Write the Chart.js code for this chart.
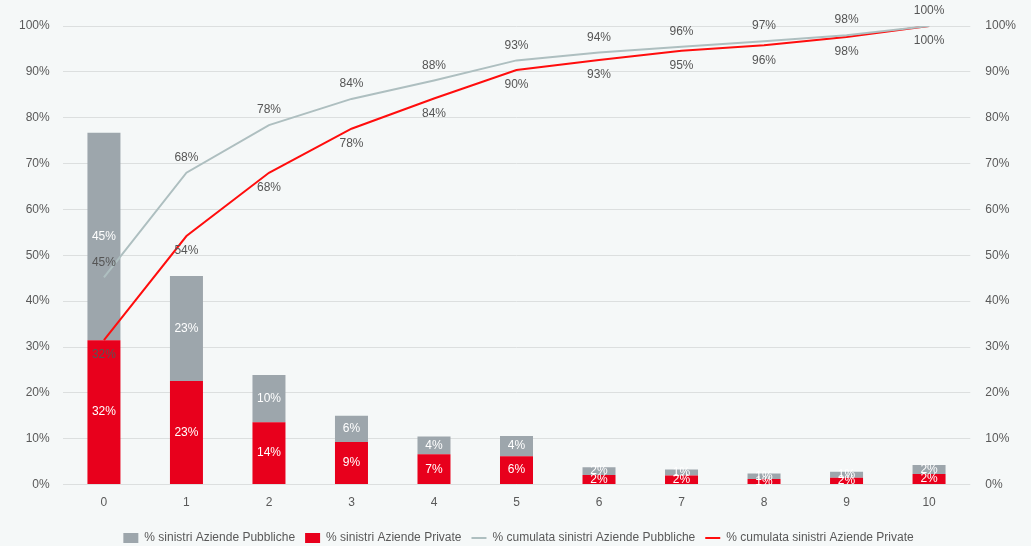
<!DOCTYPE html>
<html>
<head>
<meta charset="utf-8">
<script src="https://cdn.jsdelivr.net/npm/chart.js@4/dist/chart.umd.min.js"></script>
<style>
  html, body { margin: 0; padding: 0; background: #f5f8f8; }
  #wrap { width: 1031px; height: 546px; }
</style>
</head>
<body>
<div id="wrap"><canvas id="c" width="1031" height="546"></canvas></div>
<script>
const categories = ['0','1','2','3','4','5','6','7','8','9','10'];
const pctPrivate = [31.5, 22.6, 13.6, 9.3, 6.6, 6.2, 2.1, 2.0, 1.2, 1.5, 2.3];
const pctPublic  = [45.2, 22.9, 10.3, 5.7, 3.9, 4.4, 1.7, 1.3, 1.2, 1.3, 2.0];
const cumPublic  = [45.2, 68.0, 78.4, 84.1, 88.1, 92.5, 94.2, 95.5, 96.7, 98.0, 100];
const cumPrivate = [31.5, 54.2, 68.0, 77.6, 84.2, 90.4, 92.6, 94.6, 95.8, 97.6, 100];
const seriesNames = ['% sinistri Aziende Private', '% sinistri Aziende Pubbliche',
                     '% cumulata sinistri Aziende Pubbliche', '% cumulata sinistri Aziende Private'];

const FONT = '"Liberation Sans", Arial, sans-serif';
const fmt = v => Math.round(v) + '%';

const labelPlugin = {
  id: 'valueLabels',
  afterDatasetsDraw(chart) {
    const ctx = chart.ctx;
    ctx.save();
    ctx.font = '12px ' + FONT;
    ctx.textAlign = 'center';
    ctx.textBaseline = 'middle';
    chart.data.datasets.forEach((ds, di) => {
      const meta = chart.getDatasetMeta(di);
      meta.data.forEach((el, i) => {
        const v = ds.data[i];
        if (ds.type === 'bar') {
          ctx.fillStyle = '#ffffff';
          ctx.fillText(fmt(v), el.x, (el.y + el.base) / 2);
        } else {
          ctx.fillStyle = '#555555';
          const off = ds.labelPos === 'above' ? -15 : 15;
          ctx.fillText(fmt(v), el.x, el.y + off);
        }
      });
    });
    ctx.restore();
  }
};

const legendShift = {
  id: 'legendShift',
  afterLayout(chart) {
    if (chart.legend) { chart.legend.top += 9; chart.legend.bottom += 9; }
  }
};

const legendOrder = [1, 0, 2, 3];

new Chart(document.getElementById('c'), {
  data: {
    labels: categories,
    datasets: [
      { type: 'bar', label: seriesNames[0], data: pctPrivate, backgroundColor: '#e8001c',
        stack: 'bars', order: 1, barPercentage: 0.8, categoryPercentage: 0.5, pointStyle: 'rect' },
      { type: 'bar', label: seriesNames[1], data: pctPublic, backgroundColor: '#9da6ac',
        stack: 'bars', order: 1, barPercentage: 0.8, categoryPercentage: 0.5, pointStyle: 'rect' },
      { type: 'line', label: seriesNames[2], data: cumPublic, borderColor: '#aebfc0',
        backgroundColor: '#aebfc0', borderWidth: 2, pointRadius: 0, tension: 0, order: 0,
        stack: 'linePub', labelPos: 'above', pointStyle: 'line' },
      { type: 'line', label: seriesNames[3], data: cumPrivate, borderColor: '#ff0d0d',
        backgroundColor: '#ff0d0d', borderWidth: 2, pointRadius: 0, tension: 0, order: 0,
        stack: 'linePriv', labelPos: 'below', pointStyle: 'line' }
    ]
  },
  options: {
    responsive: false,
    animation: false,
    devicePixelRatio: 1,
    layout: { padding: { left: 6, right: 0, top: 26, bottom: 1 } },
    plugins: {
      tooltip: { enabled: false },
      legend: {
        position: 'bottom',
        labels: {
          font: { family: FONT, size: 12 },
          color: '#595959',
          usePointStyle: true,
          pointStyleWidth: 15,
          boxHeight: 10,
          padding: 10,
          sort: (a, b) => legendOrder.indexOf(a.datasetIndex) - legendOrder.indexOf(b.datasetIndex)
        }
      }
    },
    scales: {
      x: {
        stacked: true,
        grid: { display: false },
        border: { display: false },
        ticks: { color: '#595959', font: { family: FONT, size: 12 }, padding: 3 }
      },
      y: {
        stacked: true,
        min: 0, max: 100,
        ticks: { stepSize: 10, callback: v => v + '%', color: '#595959', font: { family: FONT, size: 12 }, padding: 13 },
        grid: { color: '#dcdfdf', drawTicks: false, lineWidth: 1 },
        border: { display: false }
      },
      y2: {
        position: 'right',
        min: 0, max: 100,
        ticks: { stepSize: 10, callback: v => v + '%', color: '#595959', font: { family: FONT, size: 12 }, padding: 15 },
        grid: { display: false, drawTicks: false },
        border: { display: false }
      }
    }
  },
  plugins: [labelPlugin, legendShift]
});
</script>
</body>
</html>
